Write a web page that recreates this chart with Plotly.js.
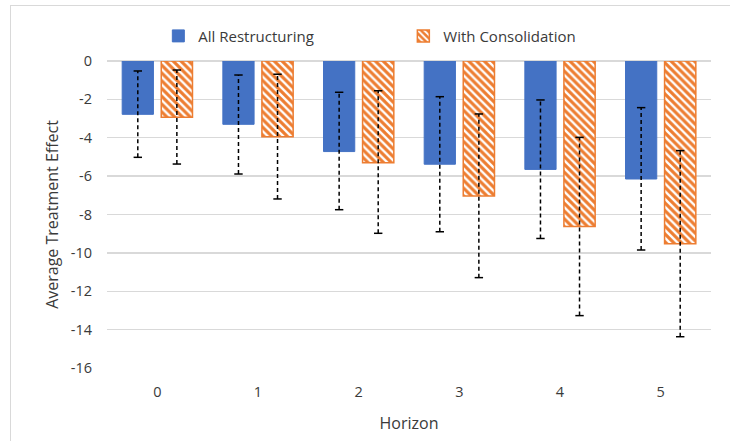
<!DOCTYPE html>
<html>
<head>
<meta charset="utf-8">
<script src="https://cdn.plot.ly/plotly-3.0.1.min.js"></script>
<style>
  html, body { margin: 0; padding: 0; background: #fff; overflow: hidden; }
  #wrap { position: relative; width: 730px; height: 441px; }
  #chart { width: 730px; height: 441px; }
  #frame { position: absolute; left: 10px; top: 5px; width: 760px; height: 480px;
           border: 1px solid #D9D9D9; pointer-events: none; }
</style>
</head>
<body>
<div id="wrap"><div id="chart"></div><div id="frame"></div></div>
<script>
// ---- data ----
const horizons = [0, 1, 2, 3, 4, 5];
const allRestructuring = [-2.78, -3.3, -4.72, -5.38, -5.65, -6.15];
const allLow  = [-5.02, -5.89, -7.75, -8.9, -9.25, -9.85];
const allHigh = [-0.52, -0.73, -1.63, -1.86, -2.03, -2.43];
const withConsolidation = [-2.93, -3.95, -5.3, -7.03, -8.63, -9.52];
const conLow  = [-5.37, -7.19, -8.98, -11.29, -13.27, -14.37];
const conHigh = [-0.47, -0.69, -1.55, -2.76, -3.98, -4.67];
const seriesNames = ['All Restructuring', 'With Consolidation'];
const yTickVals = [0, -2, -4, -6, -8, -10, -12, -14, -16];
const yTickText = ['0', '-2', '-4', '-6', '-8', '-10', '-12', '-14', '-16'];

// ---- style ----
const BLUE = '#4472C4', ORANGE = '#ED7D31';
const FONT = '"Open Sans", Lato, sans-serif';
const TXT = '#3a3a3a';
const bargap = 0.224;
const slot = (1 - bargap) / 2;

function errSegments(xs, lo, hi, off) {
  const x = [], y = [];
  xs.forEach((h, i) => { x.push(h + off, h + off, null); y.push(lo[i], hi[i], null); });
  return { x, y };
}
function capPoints(xs, lo, hi, off) {
  const x = [], y = [];
  xs.forEach((h, i) => { x.push(h + off, h + off); y.push(lo[i], hi[i]); });
  return { x, y };
}

const traces = [
  { type: 'bar', name: seriesNames[0], x: horizons, y: allRestructuring,
    marker: { color: BLUE, line: { color: BLUE, width: 1 } } },
  { type: 'bar', name: seriesNames[1], x: horizons, y: withConsolidation,
    marker: { color: ORANGE, line: { color: ORANGE, width: 1.5 },
      pattern: { shape: '\\', bgcolor: ORANGE, fgcolor: '#ffffff', size: 5.5, solidity: 0.42, fillmode: 'replace' } } }
];

[[allLow, allHigh, -slot / 2], [conLow, conHigh, slot / 2]].forEach(([lo, hi, off]) => {
  const s = errSegments(horizons, lo, hi, off);
  traces.push({ type: 'scatter', mode: 'lines', x: s.x, y: s.y, showlegend: false, hoverinfo: 'skip',
    line: { color: '#000000', width: 1.5, dash: '4px,3px' } });
  const c = capPoints(horizons, lo, hi, off);
  traces.push({ type: 'scatter', mode: 'markers', x: c.x, y: c.y, showlegend: false, hoverinfo: 'skip',
    marker: { symbol: 'line-ew', size: 6, line: { color: '#000000', width: 1.5 } } });
});

const layout = {
  width: 730, height: 441,
  margin: { l: 107, r: 19, t: 61, b: 73 },
  paper_bgcolor: '#ffffff', plot_bgcolor: '#ffffff',
  font: { family: FONT, size: 14.5, color: TXT },
  barmode: 'group', bargap: bargap, bargroupgap: 0.2,
  showlegend: true,
  legend: { orientation: 'h', x: 0.085, xanchor: 'left', y: 1.081, yanchor: 'middle',
    font: { family: FONT, size: 15, color: TXT }, entrywidth: 200, entrywidthmode: 'pixels',
    traceorder: 'normal' },
  xaxis: { type: 'linear', range: [-0.5, 5.5], tickvals: horizons, ticktext: horizons.map(String),
    showgrid: false, zeroline: false, showline: false, ticks: '', ticklabelstandoff: 13,
    tickfont: { family: FONT, size: 14.5, color: TXT },
    title: { text: 'Horizon', font: { family: FONT, size: 16, color: TXT }, standoff: 18 } },
  yaxis: { range: [-16, 0], tickvals: yTickVals, ticktext: yTickText, showgrid: true,
    gridcolor: '#D9D9D9', gridwidth: 1.3,
    zeroline: true, zerolinecolor: '#D9D9D9', zerolinewidth: 1.3, showline: false, ticks: '',
    ticklabelstandoff: 14, tickfont: { family: FONT, size: 14.5, color: TXT },
    title: { text: 'Average Treatment Effect', font: { family: FONT, size: 16, color: TXT }, standoff: 8 } }
};

Plotly.newPlot('chart', traces, layout, { displayModeBar: false, staticPlot: true });
</script>
</body>
</html>
